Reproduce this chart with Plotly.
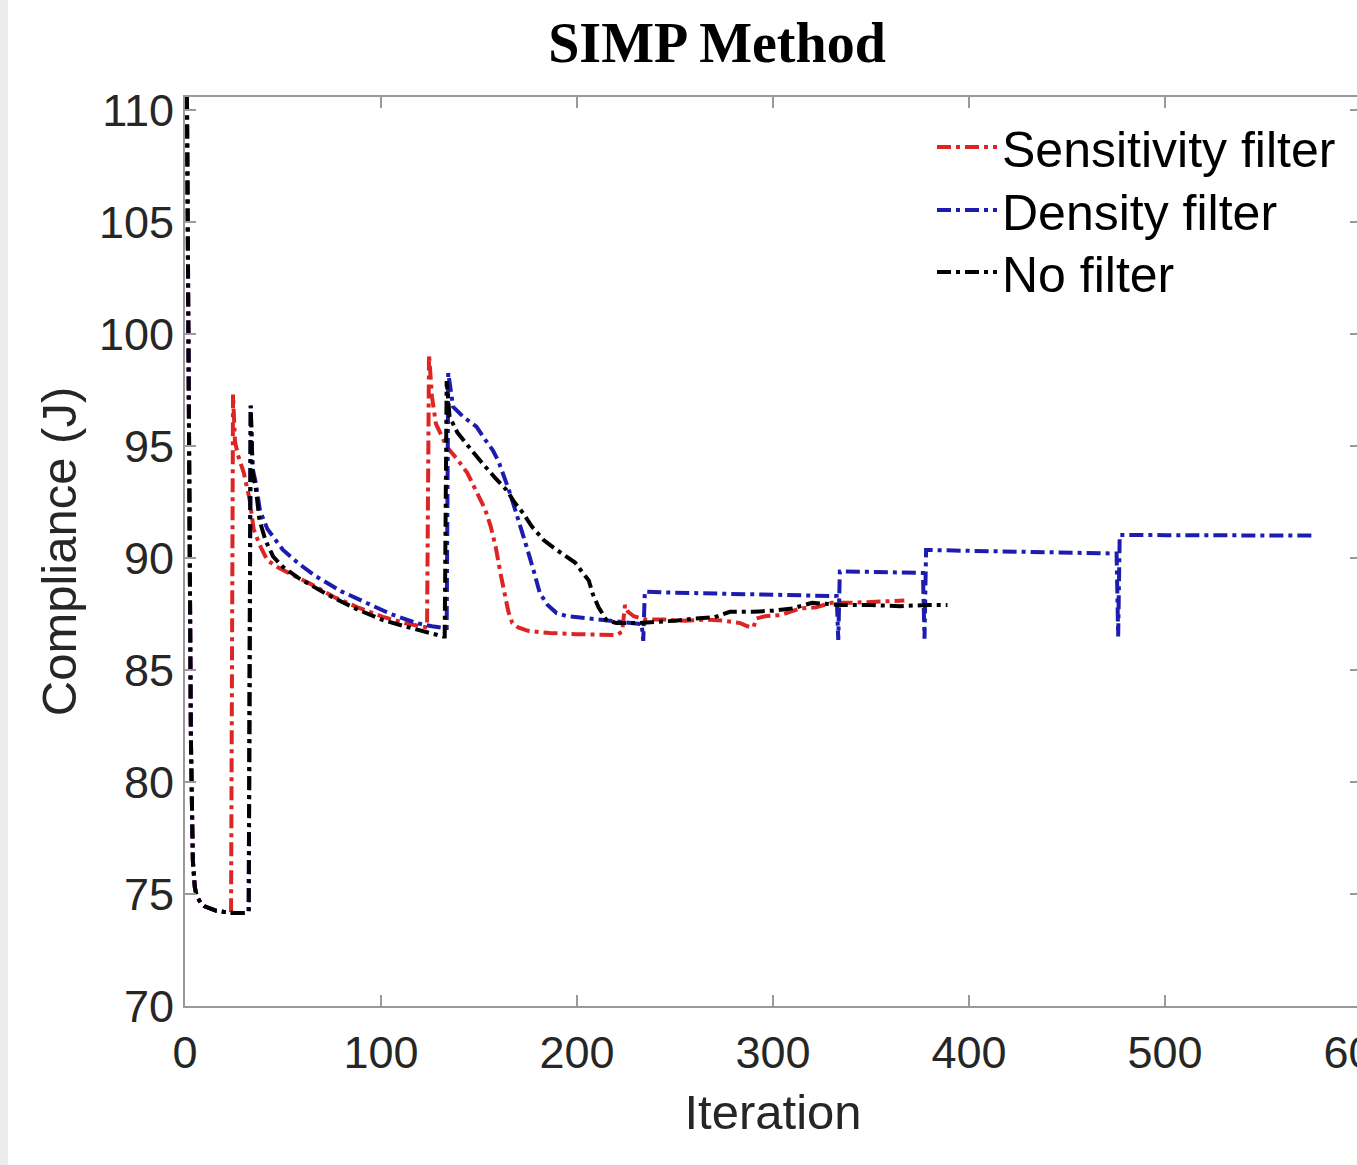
import plotly.graph_objects as go

# ---------------- data ----------------
sens_x = [1, 2, 3, 4, 5, 6, 8, 10, 13, 16, 20, 23.5, 24.5, 25.5, 27, 30, 33, 35, 38, 42, 48, 54, 65, 76, 88,
          101, 112, 123.5, 124.5, 126, 128, 133.5, 139, 144, 150, 153, 156, 158.5, 161, 163, 165, 167, 170,
          175, 186, 200, 210, 220, 223, 224.5, 226, 229, 235, 245, 255, 265, 275, 283, 287, 290, 291.5,
          296, 304, 314, 322, 330, 340, 355, 367]
sens_y = [110.6, 96, 82, 76.5, 75.3, 74.9, 74.6, 74.45, 74.35, 74.25, 74.2, 74.2, 97.3, 95.2, 94.6, 93.8,
          92.6, 91.3, 90.6, 89.9, 89.55, 89.3, 88.8, 88.26, 87.8, 87.37, 87.1, 86.9, 99.1, 97.2, 96.0,
          94.97, 94.4, 93.8, 92.7, 92.2, 91.4, 90.5, 89.3, 88.5, 87.6, 87.1, 86.9, 86.75, 86.65, 86.6,
          86.56, 86.56, 86.7, 87.9, 87.6, 87.4, 87.25, 87.25, 87.2, 87.25, 87.2, 87.1, 86.95, 86.9, 87.3,
          87.4, 87.45, 87.75, 87.8, 88.0, 88.0, 88.05, 88.1]

dens_x = [1, 2, 3, 4, 5, 6, 8, 10, 13, 16, 20, 25, 31, 32.5, 33.5, 34.5, 36, 38.3, 42, 46, 50, 58, 67, 80,
          92.6, 105, 118, 126, 132.5, 133.5, 134.3, 136.8, 142, 148.7, 153, 157, 160, 162.3, 165, 167.4,
          171, 174.3, 178, 181, 185, 189.6, 195, 203, 215, 228, 233, 233.8, 234.6, 250, 270, 290, 310,
          332.5, 333.3, 334.1, 350, 365, 376.5, 377.3, 378.1, 400, 425, 450, 475.3, 476.1, 476.9, 500,
          530, 555, 576.5]
dens_y = [110.6, 96, 82, 76.5, 75.3, 74.9, 74.6, 74.45, 74.35, 74.25, 74.2, 74.15, 74.15, 74.2, 96.8, 94.0,
          93.4, 92.1, 91.3, 90.8, 90.36, 89.75, 89.17, 88.5, 87.98, 87.5, 87.1, 86.95, 86.88, 86.88, 98.26,
          96.75, 96.3, 95.86, 95.3, 94.82, 94.3, 93.8, 93.1, 92.45, 91.5, 90.5, 89.4, 88.44, 87.9, 87.54,
          87.4, 87.32, 87.2, 87.1, 87.05, 86.3, 88.5, 88.45, 88.42, 88.4, 88.35, 88.3, 86.34, 89.4, 89.38,
          89.35, 89.33, 86.4, 90.36, 90.32, 90.28, 90.25, 90.2, 86.5, 91.03, 91.02, 91.0, 91.0, 91.0]

none_x = [1, 2, 3, 4, 5, 6, 8, 10, 13, 16, 20, 25, 31, 32.5, 33.5, 34.5, 36, 38, 41, 45, 50, 58, 66, 75,
          88, 101, 112, 122, 131.5, 132.5, 133.5, 135, 139, 143.5, 148, 152, 158, 164, 168, 172.5, 177,
          183, 189, 195, 199, 203, 206, 208, 211, 215, 220, 226, 232, 240, 250, 260, 270, 278, 290, 300,
          310, 320, 335, 350, 365, 378, 389]
none_y = [110.6, 96, 82, 76.5, 75.3, 74.9, 74.6, 74.45, 74.35, 74.25, 74.2, 74.15, 74.15, 74.2, 96.8, 93.8,
          93.2, 91.7, 90.8, 90.06, 89.6, 89.1, 88.7, 88.26, 87.7, 87.23, 86.95, 86.7, 86.5, 86.5, 97.9,
          96.3, 95.6, 95.1, 94.6, 94.2, 93.6, 93.04, 92.5, 92.0, 91.4, 90.8, 90.4, 90.06, 89.8, 89.33,
          89.0, 88.4, 87.8, 87.23, 87.1, 87.1, 87.1, 87.15, 87.2, 87.3, 87.35, 87.6, 87.6, 87.65, 87.75,
          88.0, 87.9, 87.9, 87.85, 87.9, 87.9]

series_names = ["Sensitivity filter", "Density filter", "No filter"]
series_colors = ["#dd2525", "#1c1cae", "#000000"]

x_ticks = [0, 100, 200, 300, 400, 500, 600]
y_ticks = [70, 75, 80, 85, 90, 95, 100, 105, 110]

# ---------------- figure ----------------
W, H = 1357, 1165
ml, mr, mt, mb = 177, 4, 97, 159
plot_w = W - ml - mr
plot_h = H - mt - mb

DASH = "14px,5px,4px,5px"
legend_ids = ["legend", "legend2", "legend3"]
legend_rows_px = [147, 210, 272]

fig = go.Figure()
for xs, ys, name, col, lg in zip([sens_x, dens_x, none_x], [sens_y, dens_y, none_y],
                                 series_names, series_colors, legend_ids):
    fig.add_trace(go.Scatter(x=xs, y=ys, mode="lines", name=name, legend=lg,
                             line=dict(color=col, width=4, dash=DASH)))

tickfont = dict(family="Liberation Sans, Arial, sans-serif", size=45, color="#262626")
titlefont = dict(family="Liberation Sans, Arial, sans-serif", size=49, color="#262626")
legfont = dict(family="Liberation Sans, Arial, sans-serif", size=50, color="black")


def leg(row_px):
    return dict(x=(932 - 8 - ml) / plot_w, y=1 - (row_px - mt) / plot_h, xanchor="left",
                yanchor="middle", bgcolor="rgba(255,255,255,0)", borderwidth=0, itemwidth=60,
                font=legfont)


fig.update_layout(
    width=W, height=H,
    margin=dict(l=ml, r=mr, t=mt, b=mb, autoexpand=False),
    paper_bgcolor="white", plot_bgcolor="white",
    title=dict(text="<b>SIMP Method</b>", x=(717 - 8) / W, xref="container", xanchor="center",
               y=1 - 42 / H, yref="container", yanchor="middle",
               font=dict(family="Liberation Serif, Times New Roman, serif", size=56, color="black")),
    showlegend=True,
    legend=leg(legend_rows_px[0]),
    legend2=leg(legend_rows_px[1]),
    legend3=leg(legend_rows_px[2]),
    xaxis=dict(range=[0, 600], tickvals=x_ticks, ticktext=[str(v) for v in x_ticks],
               showgrid=False, zeroline=False, showline=True, linecolor="#9a9a9a", linewidth=2,
               mirror="ticks", ticks="inside", ticklen=11, tickwidth=1.5, tickcolor="#9a9a9a",
               tickfont=tickfont, ticklabelstandoff=6, automargin=False, ticklabeloverflow="allow",
               title=dict(text="Iteration", font=titlefont, standoff=18)),
    yaxis=dict(range=[70, 70 + plot_h / 22.4], tickvals=y_ticks, ticktext=[str(v) for v in y_ticks],
               showgrid=False, zeroline=False, showline=True, linecolor="#9a9a9a", linewidth=2,
               mirror="ticks", ticks="inside", ticklen=11, tickwidth=1.5, tickcolor="#9a9a9a",
               tickfont=tickfont, ticklabelstandoff=0, automargin=False,
               title=dict(text="Compliance (J)", font=titlefont, standoff=7)),
)

post = ("document.body.style.margin='0';document.body.style.paddingLeft='8px';"
        "document.body.style.background='#ececec';document.body.style.overflow='hidden';"
        "document.documentElement.style.overflow='hidden';")
fig.write_html("out.html", post_script=post)
